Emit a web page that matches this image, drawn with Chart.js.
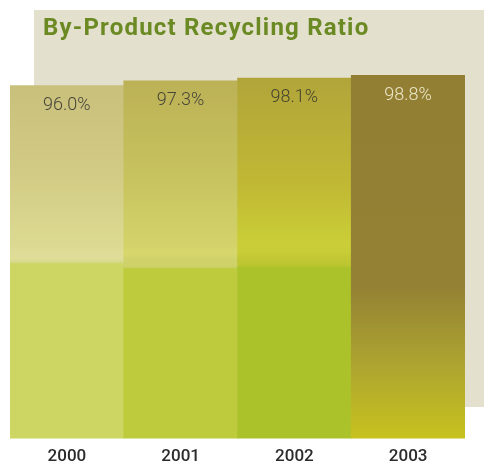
<!DOCTYPE html>
<html>
<head>
<meta charset="utf-8">
<title>By-Product Recycling Ratio</title>
<script src="https://cdn.jsdelivr.net/npm/chart.js@4/dist/chart.umd.min.js"></script>
<style>
  html, body { margin: 0; padding: 0; background: #ffffff; }
  #recycling { display: block; }
</style>
</head>
<body>
<canvas id="recycling" width="484" height="467"></canvas>
<script>
var years = ['2000', '2001', '2002', '2003'];
var ratios = [96.0, 97.3, 98.1, 98.8]; // recycling ratio, %

// colour stops per bar, top of bar = 0, baseline = 1
var barStops = [
    [[0, '#c9c07b'], [0.25, '#d2cb85'], [0.45, '#dcda92'], [0.49, '#dfdd98'], [0.5, '#d6d98a'], [0.505, '#cdd663'], [1, '#cdd663']],
    [[0, '#bcb156'], [0.25, '#c6c25e'], [0.46, '#d3d36a'], [0.48, '#d8d76d'], [0.5, '#cfd26a'], [0.52, '#cdd168'], [0.525, '#bdcb3d'], [1, '#bdcb3d']],
    [[0, '#b1a53a'], [0.3, '#c1b934'], [0.45, '#cacd37'], [0.48, '#c9cd38'], [0.5, '#c2c833'], [0.52, '#bcc530'], [0.525, '#abc22a'], [1, '#abc22a']],
    [[0, '#937f33'], [0.58, '#948134'], [0.8, '#ada530'], [1, '#c8c21e']]
];
var labelColors = ['#48463a', '#48463a', '#46432f', '#ebe6c8'];

function barFill(context) {
    var chart = context.chart;
    var stops = barStops[context.dataIndex] || barStops[0];
    if (!chart.chartArea || context.type !== 'data') {
        return stops[stops.length - 1][1];
    }
    var y = chart.scales.y;
    var top = y.getPixelForValue(context.raw);
    var base = y.getPixelForValue(0);
    var g = chart.ctx.createLinearGradient(0, top, 0, base);
    stops.forEach(function (s) { g.addColorStop(s[0], s[1]); });
    return g;
}

// beige panel and heading behind the bars
var panel = {
    id: 'panel',
    beforeDraw: function (chart) {
        var c = chart.ctx;
        c.save();
        c.fillStyle = '#e3e0cd';
        c.fillRect(34, 10, chart.width - 34, 397);
        c.fillStyle = '#6b8a23';
        c.font = 'bold 24px Roboto, "Liberation Sans", sans-serif';
        c.letterSpacing = '1.2px';
        c.textBaseline = 'alphabetic';
        c.textAlign = 'left';
        c.fillText('By-Product Recycling Ratio', 43, 35);
        c.restore();
    }
};

// percentage printed just under the top of each bar
var valueLabels = {
    id: 'valueLabels',
    afterDatasetsDraw: function (chart) {
        var c = chart.ctx;
        var bars = chart.getDatasetMeta(0).data;
        c.save();
        c.font = '300 18px Roboto, "Open Sans", sans-serif';
        c.textAlign = 'center';
        c.textBaseline = 'middle';
        bars.forEach(function (bar, i) {
            c.fillStyle = labelColors[i];
            c.fillText(ratios[i].toFixed(1) + '%', bar.x, bar.y + 20);
        });
        c.restore();
    }
};

var ctx = document.getElementById('recycling');
var myChart = new Chart(ctx, {
    type: 'bar',
    data: {
        labels: years,
        datasets: [{
            label: 'By-Product Recycling Ratio',
            data: ratios,
            backgroundColor: barFill,
            borderWidth: 0,
            barPercentage: 1,
            categoryPercentage: 1
        }]
    },
    options: {
        responsive: false,
        animation: false,
        layout: {
            padding: { left: 10, right: 19, top: 71, bottom: -8 }
        },
        scales: {
            x: {
                grid: { display: false, drawTicks: false },
                border: { display: false },
                ticks: {
                    color: '#2b2b2b',
                    padding: 8,
                    font: { family: 'Roboto', size: 17, weight: '500' }
                }
            },
            y: {
                display: false,
                min: 0,
                max: 100
            }
        },
        plugins: {
            legend: { display: false },
            tooltip: { enabled: false }
        }
    },
    plugins: [panel, valueLabels]
});
</script>
</body>
</html>
